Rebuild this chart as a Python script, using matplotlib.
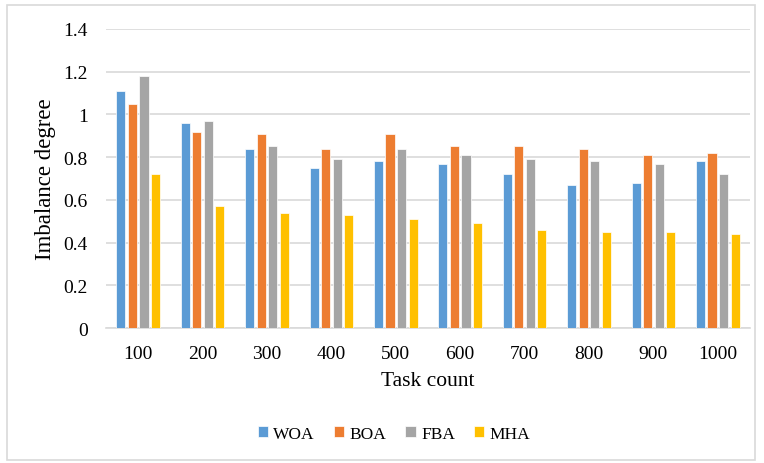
import matplotlib.pyplot as plt
import numpy as np
from matplotlib.patches import Rectangle

task_counts = ["100", "200", "300", "400", "500", "600", "700", "800", "900", "1000"]
woa = [1.11, 0.96, 0.84, 0.75, 0.78, 0.77, 0.72, 0.67, 0.68, 0.78]
boa = [1.05, 0.92, 0.91, 0.84, 0.91, 0.85, 0.85, 0.84, 0.81, 0.82]
fba = [1.18, 0.97, 0.85, 0.79, 0.84, 0.81, 0.79, 0.78, 0.77, 0.72]
mha = [0.72, 0.57, 0.54, 0.53, 0.51, 0.49, 0.46, 0.45, 0.45, 0.44]

series = [("WOA", woa, "#5B9BD5"), ("BOA", boa, "#ED7D31"),
          ("FBA", fba, "#A5A5A5"), ("MHA", mha, "#FFC000")]

plt.rcParams['font.family'] = ['Liberation Serif', 'DejaVu Serif']

fig = plt.figure(figsize=(7.64, 4.64), dpi=100)
ax = fig.add_axes([106 / 764, 1 - 329 / 464, (750 - 106) / 764, (329 - 30) / 464])

# chart frame
fig.patches.append(Rectangle((7 / 764, 1 - 461 / 464), (755 - 7) / 764, (461 - 6) / 464,
                             transform=fig.transFigure, fill=False,
                             edgecolor="#D9D9D9", linewidth=1.2))

x = np.arange(len(task_counts))
width = 0.14
step = 0.18
for i, (name, vals, color) in enumerate(series):
    ax.bar(x + (i - 1.5) * step, vals, width, color=color, label=name,
           edgecolor="white", linewidth=0.5, zorder=3)

ax.set_xlim(-0.5, len(task_counts) - 0.5)
ax.set_ylim(0, 1.4)
ax.set_yticks(np.arange(0, 1.41, 0.2))
ax.set_yticklabels(["0", "0.2", "0.4", "0.6", "0.8", "1", "1.2", "1.4"])
ax.set_xticks(x)
ax.set_xticklabels(task_counts)
ax.tick_params(axis="both", length=0, labelsize=14, colors="black")
ax.tick_params(axis="y", pad=13)
ax.tick_params(axis="x", pad=12)
ax.grid(axis="y", color="#D9D9D9", linewidth=1.2, zorder=0)
for s in ["top", "right", "left"]:
    ax.spines[s].set_visible(False)
ax.spines["bottom"].set_color("#D9D9D9")
ax.spines["bottom"].set_linewidth(1.2)

ax.set_xlabel("Task count", fontsize=15.5, labelpad=7)
ax.set_ylabel("Imbalance degree", fontsize=16.5, labelpad=5)

fig.legend(loc="center", bbox_to_anchor=(394 / 764, 1 - 435 / 464), ncol=4,
           frameon=False, fontsize=12.5, handlelength=0.6, handleheight=0.6,
           handletextpad=0.3, columnspacing=1.1)

fig.savefig("out.png", dpi=100)
